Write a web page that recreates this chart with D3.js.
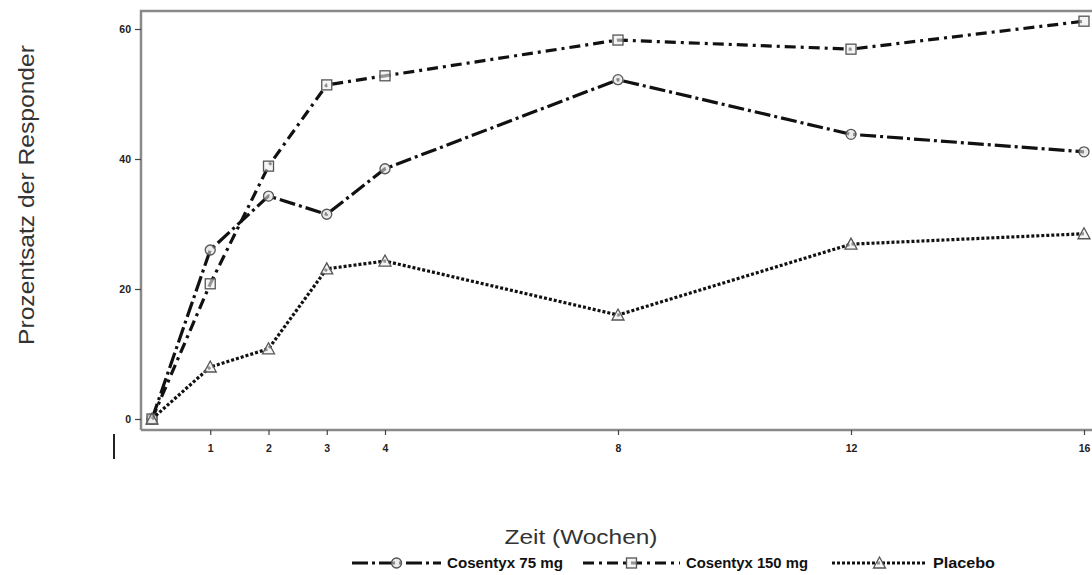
<!DOCTYPE html>
<html>
<head>
<meta charset="utf-8">
<script src="https://cdn.jsdelivr.net/npm/d3@7"></script>
<style>
body{margin:0;background:#fff;}
svg{display:block;}
</style>
</head>
<body>
<div id="chart"></div>
<script>
// Wochen und Werte
var weeks = [0,1,2,3,4,8,12,16];
var cos75 = [0,26,34.3,31.5,38.5,52.2,43.8,41.1];
var cos150 = [0,20.8,38.9,51.4,52.8,58.3,56.9,61.2];
var placebo = [0,8,10.8,23.1,24.3,16,26.9,28.5];
var xTicks = [1,2,3,4,8,12,16];
var yTicks = [0,20,40,60];
var seriesNames = ["Cosentyx 75 mg","Cosentyx 150 mg","Placebo"];

var W = 1092, H = 575;
var svg = d3.select("#chart").append("svg").attr("width",W).attr("height",H);

var x = d3.scaleLinear().domain([0,16]).range([152,1084]);
var y = d3.scaleLinear().domain([0,60]).range([419,29]);

var frameCol = "#8a8a8a";
// Rahmen
svg.append("path")
	.attr("d","M141,430 L141,11 L1100,11")
	.attr("fill","none").attr("stroke",frameCol).attr("stroke-width",2.5);
svg.append("line").attr("x1",141).attr("x2",1100).attr("y1",430).attr("y2",430)
	.attr("stroke",frameCol).attr("stroke-width",2.5);

// y-Achse
var yAxis = svg.append("g").attr("transform","translate(141,0)")
	.call(d3.axisLeft(y).tickValues(yTicks).tickSize(6).tickFormat(d3.format("d")));
yAxis.select(".domain").remove();
yAxis.selectAll("line").attr("stroke","#444").attr("stroke-width",1.2);
yAxis.selectAll("text").attr("font-family","Liberation Sans, Arial, sans-serif")
	.attr("font-weight","bold").attr("font-size",10.5).attr("fill","#222").attr("x",-10);

// x-Achse
var xAxis = svg.append("g").attr("transform","translate(0,430)")
	.call(d3.axisBottom(x).tickValues(xTicks).tickSize(5).tickFormat(d3.format("d")));
xAxis.select(".domain").remove();
xAxis.selectAll("line").attr("stroke","#444").attr("stroke-width",1.2);
xAxis.selectAll("text").attr("font-family","Liberation Sans, Arial, sans-serif")
	.attr("font-weight","bold").attr("font-size",10.5).attr("fill","#222").attr("y",15);

// kleiner Strich links unten
svg.append("line").attr("x1",114).attr("x2",114).attr("y1",434).attr("y2",459)
	.attr("stroke","#222").attr("stroke-width",2);

// Achsentitel
svg.append("text").attr("transform","translate(34,195) rotate(-90)")
	.attr("text-anchor","middle").attr("font-family","Liberation Sans, Arial, sans-serif")
	.attr("font-size",22).attr("fill","#333")
	.attr("textLength",300).attr("lengthAdjust","spacingAndGlyphs")
	.text("Prozentsatz der Responder");
svg.append("text").attr("x",581).attr("y",544)
	.attr("text-anchor","middle").attr("font-family","Liberation Sans, Arial, sans-serif")
	.attr("font-size",21).attr("fill","#333")
	.attr("textLength",153).attr("lengthAdjust","spacingAndGlyphs")
	.text("Zeit (Wochen)");

var styles = [
	{vals:cos75, dash:"16,4,3,4", width:3.2, sym:"circle"},
	{vals:cos150, dash:"11,5,3,5", width:3.2, sym:"square"},
	{vals:placebo, dash:"3,2", width:3.2, sym:"triangle"}
];

var line = d3.line().x(function(d){return x(d[0]);}).y(function(d){return y(d[1]);});

function drawSymbol(g,sym,cx,cy){
	if(sym=="circle"){
		g.append("circle").attr("cx",cx).attr("cy",cy).attr("r",5)
			.attr("fill","#ddd").attr("fill-opacity",0.6).attr("stroke","#555").attr("stroke-width",1.3);
	}else if(sym=="square"){
		g.append("rect").attr("x",cx-5).attr("y",cy-5).attr("width",10).attr("height",10)
			.attr("fill","#eee").attr("fill-opacity",0.6).attr("stroke","#555").attr("stroke-width",1.3);
	}else{
		g.append("path").attr("d","M"+cx+","+(cy-6)+" L"+(cx+6)+","+(cy+5)+" L"+(cx-6)+","+(cy+5)+" Z")
			.attr("fill","#eee").attr("fill-opacity",0.6).attr("stroke","#555").attr("stroke-width",1.3);
	}
}

styles.forEach(function(s){
	var pts = weeks.map(function(w,i){return [w,s.vals[i]];});
	svg.append("path").datum(pts).attr("d",line)
		.attr("fill","none").attr("stroke","#111").attr("stroke-width",s.width)
		.attr("stroke-dasharray",s.dash);
	var g = svg.append("g");
	pts.forEach(function(p){ drawSymbol(g,s.sym,x(p[0]),y(p[1])); });
});

// Legende
var legX = [352,583,832];
var legTextX = [447,686,933];
var legLen = [116,122,62];
var legY = 563;
styles.forEach(function(s,i){
	var g = svg.append("g");
	var x0 = legX[i], x1 = legTextX[i]-6;
	g.append("line").attr("x1",x0).attr("x2",x1).attr("y1",legY).attr("y2",legY)
		.attr("stroke","#111").attr("stroke-width",s.width).attr("stroke-dasharray",s.dash);
	drawSymbol(g,s.sym,(x0+x1)/2,legY);
	g.append("text").attr("x",legTextX[i]).attr("y",legY+5)
		.attr("font-family","Liberation Sans Narrow, Arial Narrow, Liberation Sans, sans-serif")
		.attr("font-weight","bold").attr("font-size",14).attr("fill","#111")
		.attr("textLength",legLen[i]).attr("lengthAdjust","spacingAndGlyphs")
		.text(seriesNames[i]);
});
</script>
</body>
</html>
